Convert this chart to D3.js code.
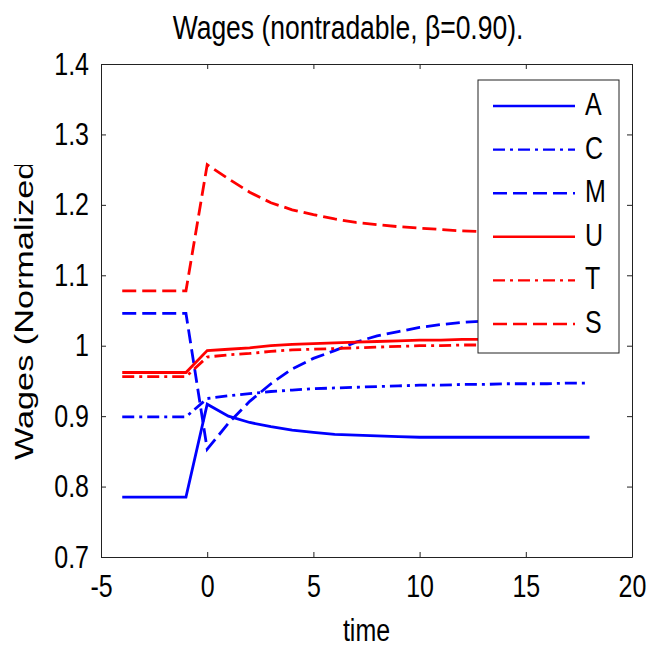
<!DOCTYPE html>
<html>
<head>
<meta charset="utf-8">
<script src="https://cdn.jsdelivr.net/npm/d3@7"></script>
<style>
  body { margin: 0; background: #fff; }
  svg { display: block; font-family: "Liberation Sans", Arial, Helvetica, sans-serif; }
</style>
</head>
<body>
<div id="chart"></div>
<script>
// time steps of the simulation
const timeData = [-4, -3, -2, -1, 0, 1, 2, 3, 4, 5, 6, 7, 8, 9, 10, 11, 12, 13, 14, 15, 16, 17, 18];

const seriesNames = ["A", "C", "M", "U", "T", "S"];
const colorData = ["#0000ff", "#0000ff", "#0000ff", "#ff0000", "#ff0000", "#ff0000"];
const styleData = ["solid", "dashdot", "dashed", "solid", "dashdot", "dashed"];

const wagesA = [0.785, 0.785, 0.785, 0.785, 0.917, 0.900, 0.891, 0.885, 0.880, 0.877, 0.874, 0.873,
  0.872, 0.871, 0.870, 0.870, 0.870, 0.870, 0.870, 0.870, 0.870, 0.870, 0.870];
const wagesC = [0.899, 0.899, 0.899, 0.899, 0.925, 0.929, 0.932, 0.935, 0.937, 0.939, 0.940, 0.941,
  0.942, 0.943, 0.944, 0.944, 0.945, 0.945, 0.946, 0.946, 0.946, 0.947, 0.947];
const wagesM = [1.046, 1.046, 1.046, 1.046, 0.853, 0.890, 0.921, 0.946, 0.967, 0.982, 0.993, 1.005,
  1.014, 1.020, 1.026, 1.030, 1.033, 1.035, 1.037, 1.038, 1.039, 1.040, 1.040];
const wagesU = [0.962, 0.962, 0.962, 0.962, 0.993, 0.995, 0.997, 1.000, 1.002, 1.003, 1.004, 1.005,
  1.006, 1.007, 1.008, 1.008, 1.009, 1.009, 1.010, 1.010, 1.010, 1.010, 1.010];
const wagesT = [0.956, 0.956, 0.956, 0.956, 0.984, 0.987, 0.989, 0.992, 0.994, 0.995, 0.996, 0.997,
  0.998, 0.999, 1.000, 1.000, 1.001, 1.001, 1.002, 1.002, 1.002, 1.002, 1.002];
const wagesS = [1.078, 1.078, 1.078, 1.078, 1.257, 1.237, 1.218, 1.203, 1.193, 1.186, 1.180, 1.175,
  1.172, 1.169, 1.167, 1.165, 1.163, 1.162, 1.161, 1.160, 1.160, 1.159, 1.159];

const xTicks = [-5, 0, 5, 10, 15, 20];
const yTicks = [0.7, 0.8, 0.9, 1, 1.1, 1.2, 1.3, 1.4];

const width = 663, height = 652;
const margin = { top: 64, right: 31, bottom: 95, left: 101 };
const stretch = 1.25; // the picture is a bit taller than the fonts

const dashes = { solid: null, dashed: "14,6", dashdot: "12,5,3,5" };

const svg = d3.select("#chart").append("svg")
  .attr("width", width)
  .attr("height", height);

svg.append("rect").attr("width", width).attr("height", height).attr("fill", "#fff");

const xScale = d3.scaleLinear().domain([-5, 20]).range([margin.left, width - margin.right]);
const yScale = d3.scaleLinear().domain([0.7, 1.4]).range([height - margin.bottom, margin.top]);

// move an axis label into a transform so it can be stretched
function stretchText(sel) {
  sel.selectAll("text").each(function() {
    const t = d3.select(this);
    const x = +t.attr("x") || 0, y = +t.attr("y") || 0;
    t.attr("x", 0).attr("y", 0)
      .attr("transform", "translate(" + x + "," + y + ") scale(1," + stretch + ")");
  });
}

function styleAxis(g) {
  g.select(".domain").attr("stroke", "#222");
  g.selectAll(".tick line").attr("stroke", "#222");
  g.selectAll("text").attr("fill", "#000").attr("font-size", "25px");
}

// lines
const allSeries = [wagesA, wagesC, wagesM, wagesU, wagesT, wagesS];
const line = d3.line()
  .x((d, i) => xScale(timeData[i]))
  .y(d => yScale(d));

for (let i = 0; i < allSeries.length; ++i) {
  svg.append("path")
    .attr("d", line(allSeries[i]))
    .attr("fill", "none")
    .attr("stroke", colorData[i])
    .attr("stroke-width", 2.8)
    .attr("stroke-dasharray", dashes[styleData[i]]);
}

// axes, ticks point inward like matlab
const xAxis = svg.append("g")
  .attr("transform", "translate(0," + (height - margin.bottom) + ")")
  .call(d3.axisBottom(xScale).tickValues(xTicks).tickFormat(d => String(d))
    .tickSizeInner(-5).tickSizeOuter(0).tickPadding(18));
styleAxis(xAxis);
stretchText(xAxis);

const yAxis = svg.append("g")
  .attr("transform", "translate(" + margin.left + ",0)")
  .call(d3.axisLeft(yScale).tickValues(yTicks).tickFormat(d => d === 1 ? "1" : d3.format(".1f")(d))
    .tickSizeInner(-5).tickSizeOuter(0).tickPadding(12));
styleAxis(yAxis);
stretchText(yAxis);

const xTop = svg.append("g")
  .attr("transform", "translate(0," + margin.top + ")")
  .call(d3.axisTop(xScale).tickValues(xTicks).tickFormat("").tickSizeInner(-5).tickSizeOuter(0));
styleAxis(xTop);

const yRight = svg.append("g")
  .attr("transform", "translate(" + (width - margin.right) + ",0)")
  .call(d3.axisRight(yScale).tickValues(yTicks).tickFormat("").tickSizeInner(-5).tickSizeOuter(0));
styleAxis(yRight);

// title and axis labels
svg.append("text")
  .attr("transform", "translate(348,39) scale(1," + stretch + ")")
  .attr("text-anchor", "middle")
  .attr("font-size", "26.5px")
  .text("Wages (nontradable, \u03b2=0.90).");

svg.append("text")
  .attr("transform", "translate(" + xScale(7.5) + ",641) scale(1," + stretch + ")")
  .attr("text-anchor", "middle")
  .attr("font-size", "25px")
  .text("time");

// the closing bracket of the y label is cut off in the original
svg.append("clipPath").attr("id", "ylabClip")
  .append("rect").attr("x", 0).attr("y", 165).attr("width", 60).attr("height", 400);

svg.append("g").attr("clip-path", "url(#ylabClip)")
  .append("text")
  .attr("transform", "translate(33,460) rotate(-90) scale(1.37,1)")
  .attr("font-size", "25px")
  .text("Wages (Normalized)");

// legend
const legend = svg.append("g");
legend.append("rect")
  .attr("x", 478).attr("y", 80)
  .attr("width", 141).attr("height", 273)
  .attr("fill", "#fff")
  .attr("stroke", "#222")
  .attr("stroke-width", 1);

for (let i = 0; i < seriesNames.length; ++i) {
  const ly = 106 + i * 43.6;
  legend.append("line")
    .attr("x1", 493).attr("x2", 575)
    .attr("y1", ly).attr("y2", ly)
    .attr("stroke", colorData[i])
    .attr("stroke-width", 2.4)
    .attr("stroke-dasharray", dashes[styleData[i]]);
  legend.append("text")
    .attr("transform", "translate(585," + (ly + 9) + ") scale(1," + stretch + ")")
    .attr("font-size", "25px")
    .text(seriesNames[i]);
}
</script>
</body>
</html>
